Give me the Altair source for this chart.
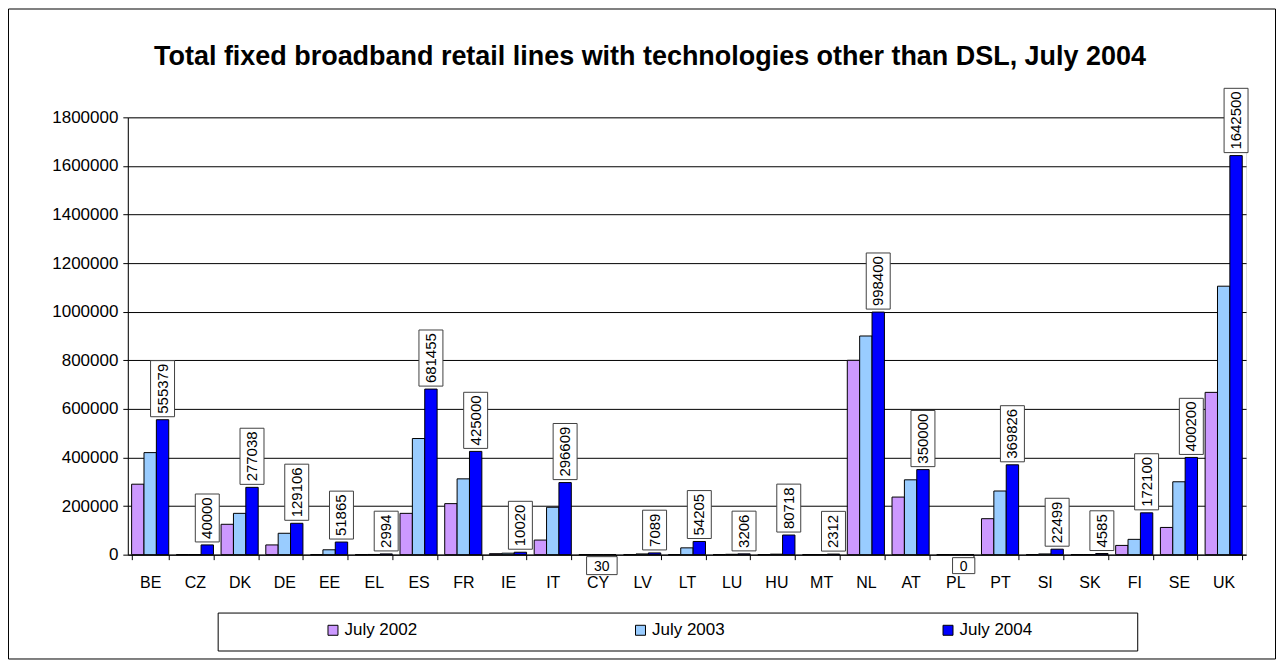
import altair as alt
import pandas as pd

FONT = "Arial, 'Liberation Sans', sans-serif"

countries = ["BE", "CZ", "DK", "DE", "EE", "EL", "ES", "FR", "IE", "IT", "CY", "LV", "LT",
             "LU", "HU", "MT", "NL", "AT", "PL", "PT", "SI", "SK", "FI", "SE", "UK"]
series = ["July 2002", "July 2003", "July 2004"]
colors = ["#CC99FF", "#99CCFF", "#0000FF"]

july_2002 = [290000, 0, 125000, 40000, 0, 0, 170000, 210000, 4000, 60000, 0, 0, 0,
             0, 0, 0, 800000, 237000, 0, 148000, 0, 0, 38000, 112000, 668000]
july_2003 = [420000, 0, 170000, 88000, 20000, 800, 478000, 312000, 6000, 195000, 0, 3000, 28000,
             1500, 2000, 0, 900000, 308000, 0, 262000, 3000, 0, 63000, 300000, 1105000]
july_2004 = [555379, 40000, 277038, 129106, 51865, 2994, 681455, 425000, 10020, 296609, 30, 7089, 54205,
             3206, 80718, 2312, 998400, 350000, 0, 369826, 22499, 4585, 172100, 400200, 1642500]

rows = []
for i, c in enumerate(countries):
    for s, vals in zip(series, [july_2002, july_2003, july_2004]):
        rows.append({"country": c, "series": s, "value": vals[i]})
df = pd.DataFrame(rows)

lab = pd.DataFrame({"country": countries, "series": "July 2004", "value": july_2004})
lab["label"] = lab["value"].astype(str)

W, H = 1120, 438

x_enc = alt.X("country:N", sort=countries,
              scale=alt.Scale(paddingInner=0.17, paddingOuter=0.085),
              axis=alt.Axis(title=None, labelAngle=0, tickBand="extent", tickSize=5,
                            tickColor="black", domainColor="black", labelColor="black",
                            labelFont=FONT, labelFontSize=16, labelPadding=15, grid=False))
y_enc = alt.Y("value:Q", scale=alt.Scale(domain=[0, 1800000], nice=False),
              axis=alt.Axis(title=None, values=list(range(0, 1800001, 200000)), format="d",
                            tickSize=5, tickColor="black", domainColor="black",
                            gridColor="black", gridWidth=1, labelColor="black",
                            labelFont=FONT, labelFontSize=17, labelPadding=5))
xoff = alt.XOffset("series:N", sort=series, scale=alt.Scale(domain=series, paddingInner=0, paddingOuter=0))

one = pd.DataFrame({"k": [0]})

border = alt.Chart(one).mark_rect(fill="white", fillOpacity=0, stroke="black", strokeWidth=1).encode(
    x=alt.value(-119.5), x2=alt.value(1149.5), y=alt.value(-108.5), y2=alt.value(542.5))

legend_box = alt.Chart(one).mark_rect(fill="white", stroke="black", strokeWidth=1).encode(
    x=alt.value(90.5), x2=alt.value(1011.5), y=alt.value(496.5), y2=alt.value(534.5))

bars = alt.Chart(df).mark_bar(stroke="black", strokeWidth=1).encode(
    x=x_enc, y=y_enc, xOffset=xoff,
    color=alt.Color("series:N", sort=series,
                    scale=alt.Scale(domain=series, range=colors),
                    legend=alt.Legend(orient="none", legendX=197, legendY=505,
                                      direction="horizontal", columns=3, title=None,
                                      symbolType="square", symbolSize=100,
                                      symbolStrokeColor="black", symbolStrokeWidth=1,
                                      labelFont=FONT, labelFontSize=17, labelColor="black",
                                      columnPadding=215, padding=0, labelOffset=3)))

R = 12.0  # symbol half-size in px (size = (2R)^2)

rot = lab[lab["value"] >= 100]
rot_boxes = alt.Chart(rot).transform_calculate(
    h=f"8.2*length(datum.label)+7",
    path=f"'M -1 ' + (-3/{R}) + ' L 1 ' + (-3/{R}) + ' L 1 ' + (-(3+datum.h)/{R}) + ' L -1 ' + (-(3+datum.h)/{R}) + ' Z'"
).mark_point(filled=True, fill="white", stroke="#404040", strokeWidth=1, opacity=1, size=(2 * R) ** 2).encode(
    x=x_enc, y=y_enc, xOffset=xoff, shape=alt.Shape("path:N", scale=None))
rot_text = alt.Chart(rot).mark_text(angle=270, align="left", baseline="middle", dx=6,
                                    font=FONT, fontSize=15, color="black").encode(
    x=x_enc, y=y_enc, xOffset=xoff, text="label:N")

def hbox(country, off, shift, half):
    d = lab[lab["country"] == country]
    boxes = alt.Chart(d).transform_calculate(
        w="8.3*length(datum.label)+14",
        path=f"'M ' + (({shift}-datum.w/2)/{R}) + ' ' + (({off}-{half})/{R}) + ' L ' + (({shift}+datum.w/2)/{R}) + ' ' + (({off}-{half})/{R}) + ' L ' + (({shift}+datum.w/2)/{R}) + ' ' + (({off}+{half})/{R}) + ' L ' + (({shift}-datum.w/2)/{R}) + ' ' + (({off}+{half})/{R}) + ' Z'"
    ).mark_point(filled=True, fill="white", stroke="#404040", strokeWidth=1, opacity=1, size=(2 * R) ** 2).encode(
        x=x_enc, y=y_enc, xOffset=xoff, shape=alt.Shape("path:N", scale=None))
    text = alt.Chart(d).mark_text(align="center", baseline="middle", dy=off + 1, dx=shift,
                                  font=FONT, fontSize=14, color="black").encode(
        x=x_enc, y=y_enc, xOffset=xoff, text="label:N")
    return boxes + text

cy = hbox("CY", 11, -8, 9)
pl = hbox("PL", 11, -4, 8)

chart = alt.layer(border, legend_box, bars, rot_boxes, rot_text, cy, pl).properties(
    width=W, height=H,
    title=alt.TitleParams("Total fixed broadband retail lines with technologies other than DSL, July 2004",
                          font=FONT, fontSize=27, fontWeight="bold", color="black",
                          anchor="middle", frame="group", dx=-37, offset=-84, baseline="alphabetic"),
    autosize=alt.AutoSizeParams(type="none"),
    padding={"left": 120, "top": 109, "right": 32, "bottom": 106},
).configure_view(stroke="#808080", strokeWidth=1).configure(background="white")

chart.save("out.html", embed_options={"renderer": "svg", "actions": False})
